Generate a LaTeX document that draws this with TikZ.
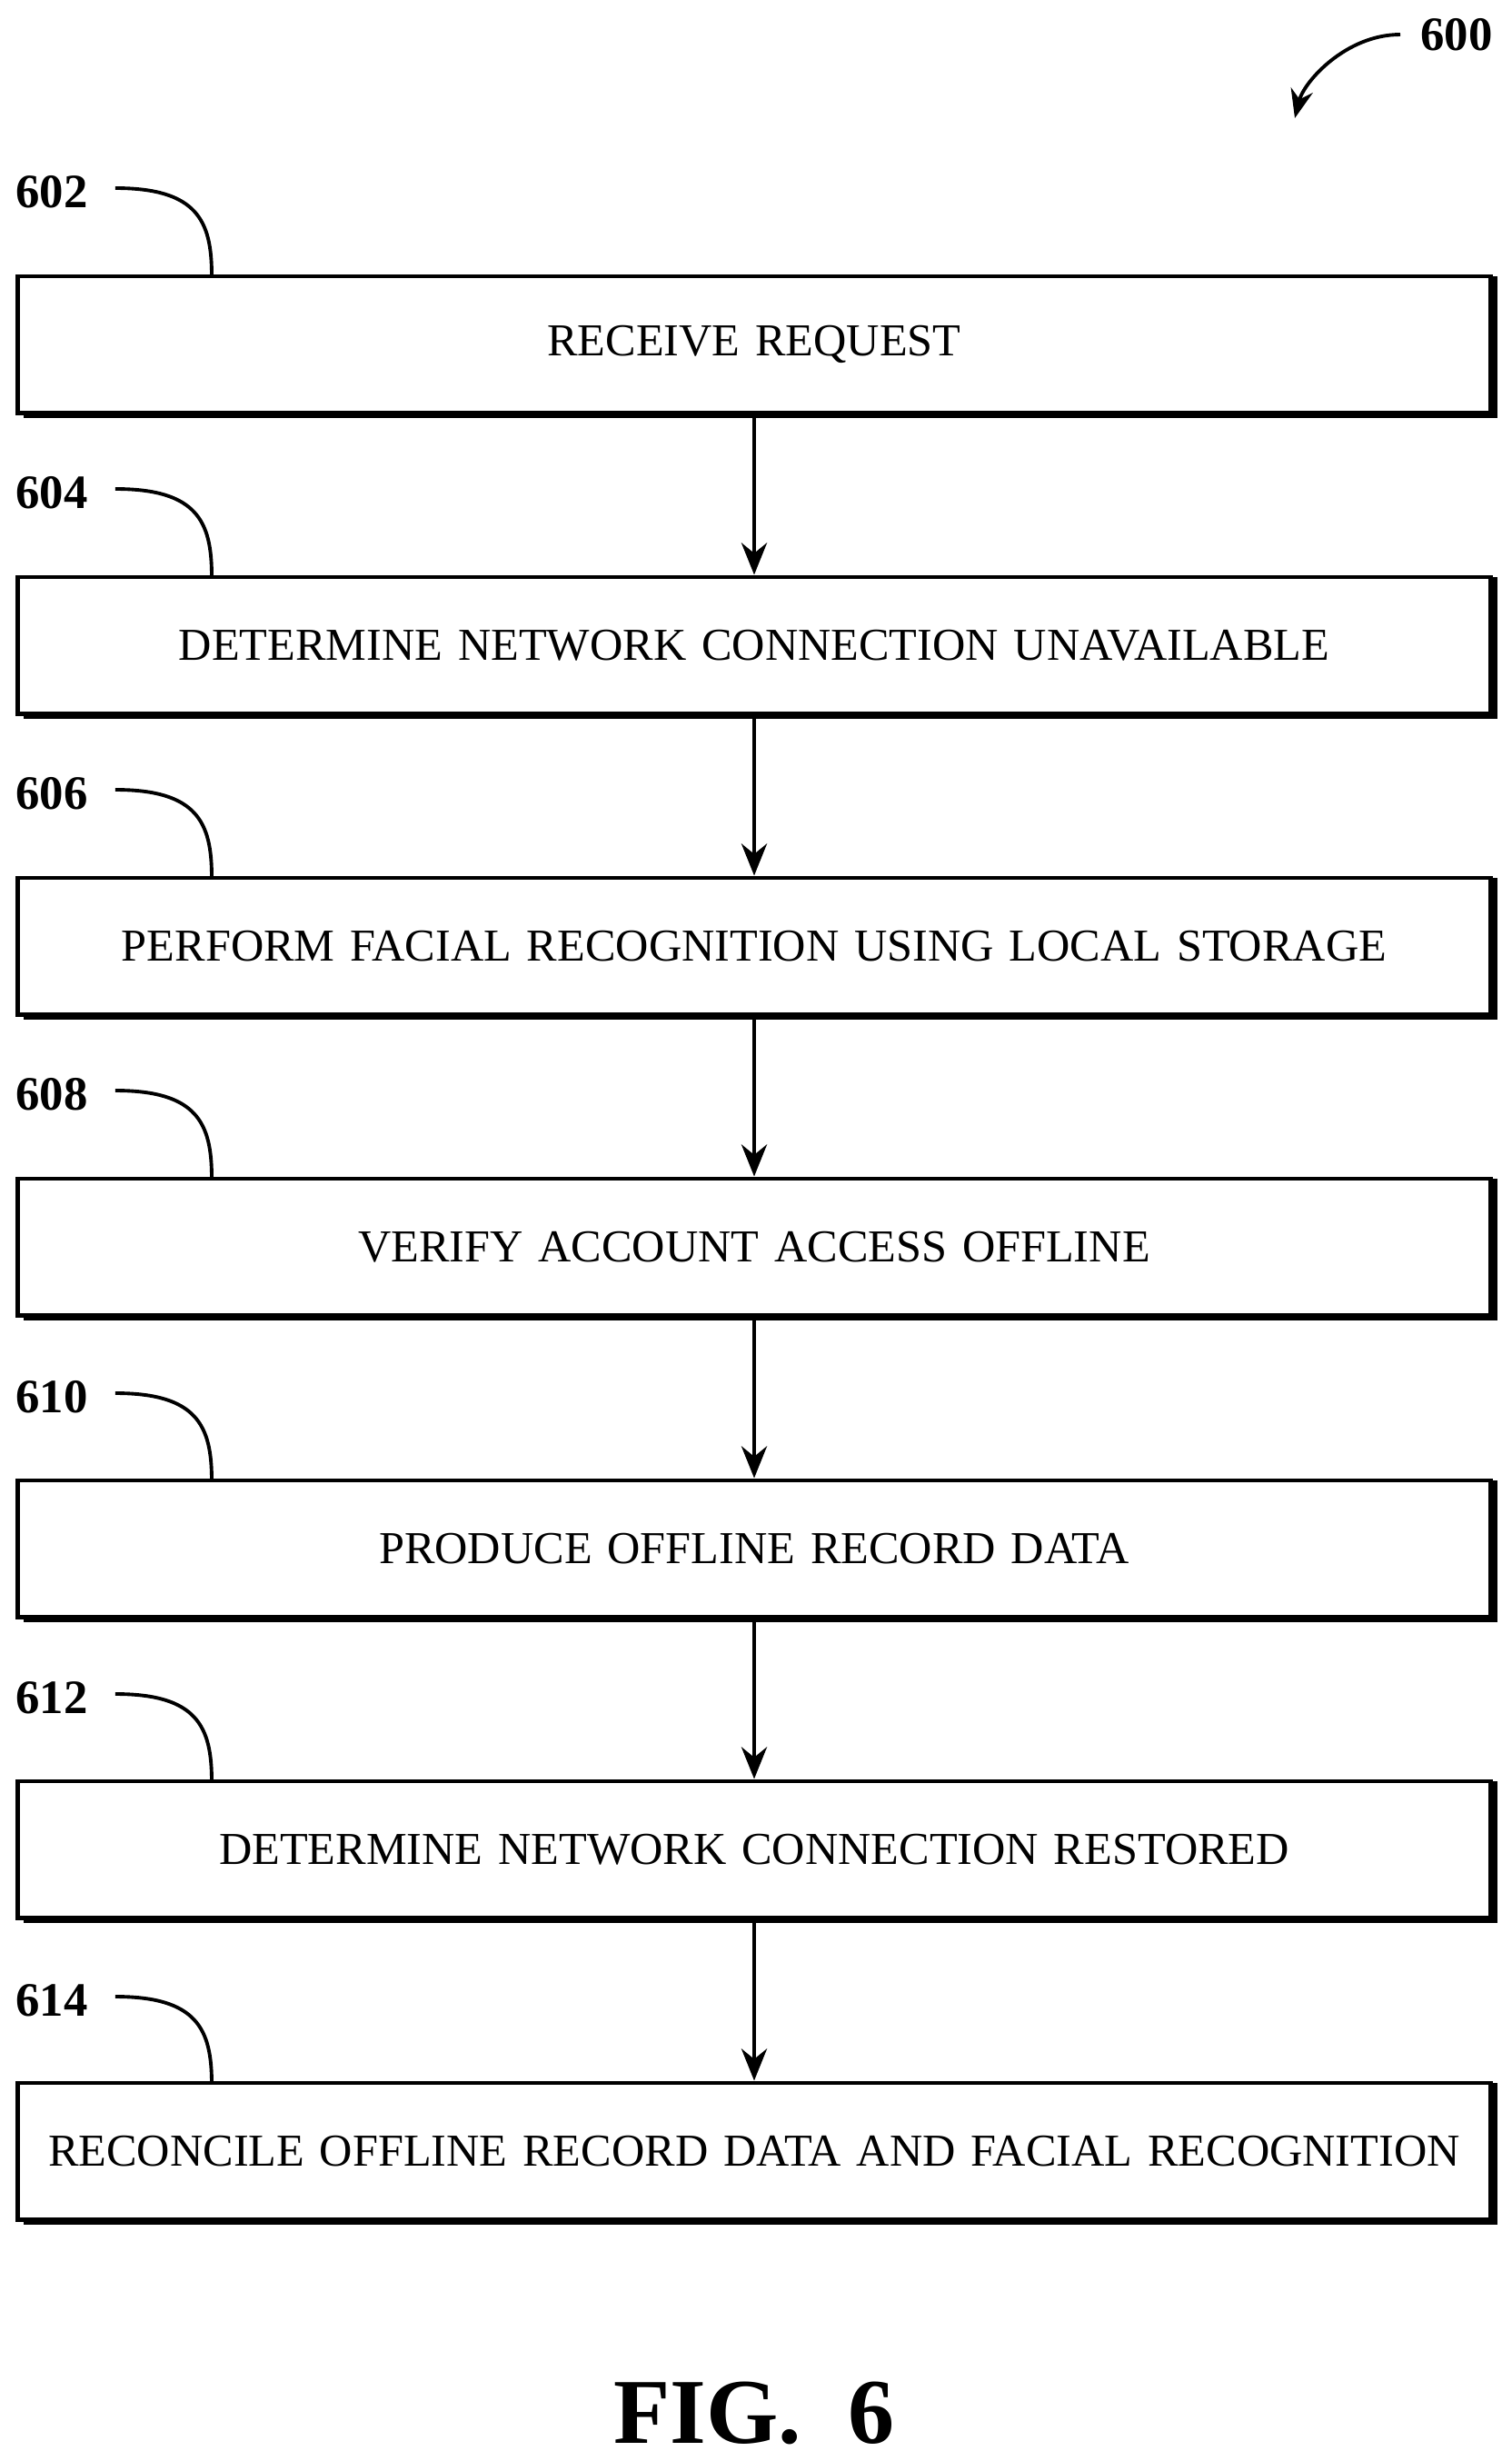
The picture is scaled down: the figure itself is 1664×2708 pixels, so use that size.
\documentclass[tikz,border=0pt]{standalone}
\usepackage{fontspec}
\setmainfont{Liberation Serif}
\usetikzlibrary{arrows.meta}
\begin{document}
\begin{tikzpicture}[x=0.01cm,y=-0.01cm,
  stepbox/.style={draw, line width=1.4pt, minimum width=16.2cm, text width=16cm, align=center,
    minimum height=1.5cm, inner sep=0pt, font=\fontsize{14.3}{17}\selectfont},
  ref/.style={font=\bfseries\fontsize{15}{18}\selectfont},
  flow/.style={-{Stealth[length=10pt,width=8pt]}, line width=1.2pt}]
\useasboundingbox (0,0) rectangle (1664,2708);

%%%%% steps
\foreach \name/\y/\txt in {s602/379/RECEIVE REQUEST,
                          s604/710/DETERMINE NETWORK CONNECTION UNAVAILABLE,
                          s606/1041/PERFORM FACIAL RECOGNITION USING LOCAL STORAGE,
                          s608/1372/VERIFY ACCOUNT ACCESS OFFLINE,
                          s610/1704/PRODUCE OFFLINE RECORD DATA,
                          s612/2035/DETERMINE NETWORK CONNECTION RESTORED,
                          s614/2367/RECONCILE OFFLINE RECORD DATA AND FACIAL RECOGNITION}{
  \draw[line width=1.8pt] (26,\y-72) -- (1645,\y-72) -- (1645,\y+78) -- (26,\y+78);
  \node[stepbox, fill=white] (\name) at (830,\y) {\txt};
}

%%%%% reference labels
\foreach \num/\y in {602/303,604/634,606/965,608/1296,610/1629,612/1960,614/2293}{
  \node[ref] (l\num) at (57,\y-92) {\num};
  \draw[line width=1.1pt] (l\num.east) ++(18,-4) .. controls +(90,0) and +(0,-60) .. (233,\y);
}
\node[ref] (l600) at (1603,38) {600};
\draw[line width=1.1pt, -{Stealth[length=9pt,width=7pt]}] (l600.west) ++(-10,0) .. controls +(-60,0) and +(10,-40) .. (1425,130);

%%%%% connectors
\foreach \a/\b in {s602/s604,s604/s606,s606/s608,s608/s610,s610/s612,s612/s614}
  \draw[flow] (\a.south) -- (\b.north);

\node[font=\bfseries\fontsize{29}{34}\selectfont] (fig) at (830,2655) {FIG.~~6};
\end{tikzpicture}
\end{document}
